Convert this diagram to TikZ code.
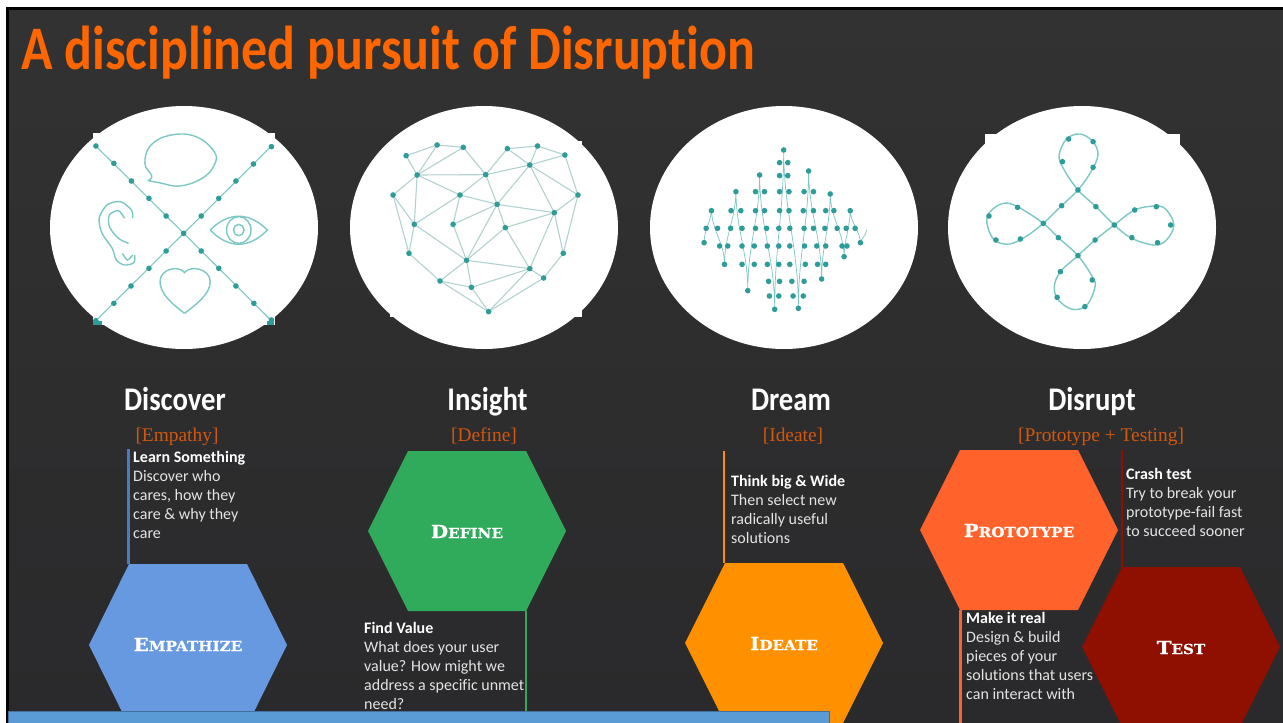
\documentclass[tikz,border=0pt]{standalone}
\usepackage{fontspec}
\usetikzlibrary{calc}
\newfontfamily\carlito[Ligatures=NoCommon]{Carlito}
\newfontfamily\serifl{Liberation Serif}
\newfontfamily\titlef[FakeStretch=0.838,Ligatures=NoCommon]{Carlito Bold}
\newfontfamily\headf[FakeStretch=0.87,Ligatures=NoCommon]{Carlito}
\newfontfamily\capf[FakeStretch=1.1,BoldFeatures={FakeBold=0.7}]{DejaVu Serif}
\definecolor{bgtop}{HTML}{323232}
\definecolor{bgbot}{HTML}{2A292B}
\definecolor{titleor}{HTML}{FF6600}
\definecolor{subor}{HTML}{D2570C}
\definecolor{body}{HTML}{E4E4E4}
\definecolor{hexblue}{HTML}{6699E0}
\definecolor{barblue}{HTML}{4A7CC0}
\definecolor{hexgreen}{HTML}{30AB5C}
\definecolor{hexamber}{HTML}{FF9100}
\definecolor{hexorange}{HTML}{FF632B}
\definecolor{hexred}{HTML}{8F0F00}
\definecolor{boxblue}{HTML}{5B9BD5}
\definecolor{boxedge}{HTML}{41719C}
\definecolor{tealdot}{HTML}{2E9C98}
\definecolor{teall}{HTML}{7CC8C4}
\definecolor{greyl}{HTML}{B2D2D0}
\newcommand{\capl}[2]{{\capf\bfseries\fontsize{18}{18}\selectfont #1}{\capf\bfseries\fontsize{13.8}{14}\selectfont #2}}
\newcommand{\hexa}[6]{% name, left tip x, center y, half height, colour, label
  \coordinate (#1tl) at (#2+40,#3-#4);
  \coordinate (#1tr) at (#2+158,#3-#4);
  \coordinate (#1r) at (#2+198,#3);
  \coordinate (#1br) at (#2+158,#3+#4);
  \coordinate (#1bl) at (#2+40,#3+#4);
  \coordinate (#1l) at (#2,#3);
  \fill[#5] (#1tl) -- (#1tr) -- (#1r) -- (#1br) -- (#1bl) -- (#1l) -- cycle;
}
\tikzset{
  headtxt/.style={anchor=base,text=white,font=\headf\bfseries\fontsize{33}{33}\selectfont,inner sep=0},
  subtxt/.style={anchor=base,text=subor,font=\serifl\fontsize{19.4}{19.4}\selectfont,inner sep=0},
  hexlab/.style={anchor=base,text=white,inner sep=0},
  bodytxt/.style={anchor=north west,align=left,text=body,inner sep=0,font=\carlito\fontsize{16}{19}\selectfont},
  barline/.style={line width=2.2pt},
  tline/.style={teall,line width=1.1pt},
  gline/.style={greyl,line width=1.1pt},
  icon/.style={teall,line width=1.4pt},
}
\newcommand{\dotsat}[1]{\foreach \p in {#1} \fill[tealdot] \p circle (2.8pt);}
\begin{document}
\begin{tikzpicture}[x=1pt,y=-1pt]
\clip (0,0) rectangle (1283,723);
\fill[white] (0,0) rectangle (1283,723);
\shade[top color=bgtop,bottom color=bgbot] (6,7) rectangle (1283,723);
\draw[black,line width=3pt] (7.5,723) -- (7.5,8.5) -- (1283,8.5);
% title
\node[anchor=base west,inner sep=0,text=titleor,font=\titlef\fontsize{62}{62}\selectfont] (title) at (21,69) {A disciplined pursuit of Disruption};
% discs
\fill[white] (184,227.5) ellipse [x radius=134,y radius=121.5];
\fill[white] (484,227.5) ellipse [x radius=134,y radius=121.5];
\fill[white] (784,227.5) ellipse [x radius=134,y radius=121.5];
\fill[white] (1082,227.5) ellipse [x radius=134,y radius=121.5];
\fill[white] (93,133) rectangle (275,325);
\fill[white] (390,141) rectangle (582,317);
\fill[white] (985,134) rectangle (1180,312);
% icon 1
\begin{scope}[shift={(0,90)},x=0.40816pt,y=-0.33333pt]
\draw[tline] (235,168) -- (665,692);
\draw[tline] (665,168) -- (235,692);
\dotsat{(235,168),(279,220),(322,273),(365,325),(407,378),(450,430),(493,483),(536,535),(578,588),(622,640),(665,690),(665,170),(621,222),(578,273),(536,325),(493,378),(407,483),(365,535),(321,588),(279,640),(235,692)}
\fill[tealdot] (228,692) rectangle (250,705);
\fill[tealdot] (655,692) rectangle (672,705);
\draw[icon] plot[smooth,tension=0.7] coordinates {(362,272)(372,258)(355,220)(370,165)(420,135)(480,140)(525,185)(525,225)(495,265)(440,288)(390,278)(362,272)};
\draw[icon] plot[smooth] coordinates {(330,495)(328,518)(305,525)(285,510)(275,475)(250,430)(243,385)(262,345)(295,335)(322,360)(325,385)};
\draw[icon] plot[smooth] coordinates {(305,385)(290,362)(268,375)(268,410)(290,445)(315,460)};
\draw[icon] plot[smooth] coordinates {(300,490)(312,510)(325,495)};
\draw[icon] (515,420) .. controls (560,365) and (610,365) .. (655,420) .. controls (610,477) and (560,477) .. (515,420);
\draw[icon] (585,420) ellipse [x radius=30,y radius=40];
\draw[icon] (585,420) ellipse [x radius=13,y radius=17];
\draw[icon] (452,670) .. controls (420,640) and (392,610) .. (392,575) .. controls (392,535) and (440,525) .. (452,548) .. controls (465,525) and (515,535) .. (515,575) .. controls (515,610) and (485,640) .. (452,670);
\end{scope}
% icon 2
\begin{scope}[shift={(0,90)},x=0.40816pt,y=-0.33333pt]
\foreach \n/\q in {a/{995,197},b/{1071,165},c/{1135,172},d/{1243,176},e/{1317,168},f/{1384,195},g/{1298,225},h/{1190,254},i/{1022,255},j/{963,315},k/{1127,315},l/{1218,343},m/{1416,315},n/{1358,368},o/{1015,403},p/{1110,403},q/{1238,413},r/{1002,490},s/{1380,490},t/{1143,511},u/{1298,536},v/{1332,564},w/{1078,573},x/{1155,592},y/{1197,665}}
  {\coordinate (ht\n) at (\q);}
\foreach \s/\t in {a/b,b/c,a/i,b/i,c/i,c/h,d/h,d/e,d/g,e/g,e/f,f/g,g/h,h/i,i/j,i/k,i/o,j/o,k/h,k/l,k/o,k/p,h/l,g/l,g/m,f/m,m/n,l/n,l/p,l/q,l/t,p/t,q/n,q/t,q/u,g/n,n/u,n/s,m/s,s/v,u/v,o/r,o/t,j/r,r/w,t/w,t/x,t/u,u/x,w/x,w/y,x/y,u/y,v/y}
  {\draw[gline] (ht\s) -- (ht\t);}
\foreach \n in {a,b,c,d,e,f,g,h,i,j,k,l,m,n,o,p,q,r,s,t,u,v,w,x,y} {\fill[tealdot] (ht\n) circle (2.8pt);}
\end{scope}
% icon 3
\begin{scope}[shift={(640,90)},x=0.40816pt,y=-0.33333pt]
\draw[teall,line width=0.7pt] (157,458) to[out=90,in=-90] (175,355) to[out=-90,in=90] (207,523) to[out=90,in=-90] (235,300) to[out=-90,in=90] (264,602) to[out=90,in=-90] (293,250) to[out=-90,in=90] (330,660) to[out=90,in=-90] (352,178) to[out=-90,in=90] (388,655) to[out=90,in=-90] (413,238) to[out=-90,in=90] (445,570) to[out=90,in=-90] (466,308) to[out=-90,in=90] (500,503) to[out=90,in=-90] (515,358) to[out=-90,in=90] (540,462) to[out=90,in=-90] (555,420);
\dotsat{(352,180),(342,218),(362,218),(293,255),(342,257),(362,257),(413,243),(235,305),(283,305),(305,305),(342,305),(365,305),(402,305),(425,305),(466,312)}
\dotsat{(175,362),(223,362),(247,362),(283,362),(305,362),(342,362),(365,362),(400,362),(425,362),(455,362),(475,362),(515,362)}
\dotsat{(162,415),(190,415),(222,415),(250,415),(283,415),(310,415),(340,415),(367,415),(402,415),(425,415),(453,415),(483,415),(505,415),(527,415)}
\dotsat{(157,458),(540,458),(195,468),(215,468),(250,468),(280,468),(312,468),(340,468),(367,468),(403,468),(433,468),(455,468),(495,468),(507,468),(500,500)}
\dotsat{(207,523),(250,523),(280,523),(312,523),(340,523),(367,523),(405,523),(435,523),(455,523),(445,567),(315,574),(342,574),(372,574),(402,574),(264,602),(317,618),(340,618),(375,618),(400,618),(330,658),(388,655)}
\end{scope}
% icon 4
\begin{scope}[shift={(640,90)},x=0.40816pt,y=-0.33333pt]
\draw[tline,line width=1.4pt] plot[smooth cycle,tension=0.6] coordinates {(1073,300)(1117,350)(1162,405)(1205,445)(1260,465)(1290,450)(1308,405)(1290,360)(1265,348)(1212,360)(1162,405)(1115,450)(1073,497)(1030,545)(1015,590)(1025,630)(1060,658)(1095,645)(1115,590)(1108,560)(1073,497)(1025,443)(988,400)(925,350)(890,340)(858,365)(850,400)(868,450)(905,462)(945,440)(988,400)(1033,347)(1073,300)(1105,245)(1122,195)(1110,155)(1078,132)(1045,147)(1027,195)(1037,235)};
\dotsat{(1073,300),(988,400),(1162,405),(1073,497),(1033,347),(1117,350),(1025,443),(1115,450),(1035,215),(1050,147),(1110,155),(1110,232),(925,352),(855,378),(872,450),(932,447),(1212,360),(1265,350),(1300,405),(1268,458),(1205,443),(1030,545),(1022,622),(1090,650),(1108,570)}
\end{scope}
% headings
\node[headtxt] (h1) at (175,410) {Discover};
\node[headtxt] (h2) at (487.5,410) {Insight};
\node[headtxt] (h3) at (791,410) {Dream};
\node[headtxt] (h4) at (1092,410) {Disrupt};
\node[subtxt] (s1) at (177,441) {[Empathy]};
\node[subtxt] (s2) at (484,441) {[Define]};
\node[subtxt] (s3) at (793,441) {[Ideate]};
\node[subtxt] (s4) at (1101,441) {[Prototype + Testing]};
% hexagons
\hexa{emp}{89}{645}{81}{hexblue}{}
\hexa{def}{368}{531}{80}{hexgreen}{}
\hexa{ide}{685}{643}{80}{hexamber}{}
\hexa{pro}{920}{530}{80}{hexorange}{}
\hexa{tes}{1082}{647}{80}{hexred}{}
\node[hexlab] (lemp) at (188,651) {\capl{E}{MPATHIZE}};
\node[hexlab] (ldef) at (467,538) {\capl{D}{EFINE}};
\node[hexlab] (lide) at (784,650) {\capl{I}{DEATE}};
\node[hexlab] (lpro) at (1019,537) {\capl{P}{ROTOTYPE}};
\node[hexlab] (ltes) at (1181,654) {\capl{T}{EST}};
% bars
\coordinate (empfree) at (128.5,449);
\coordinate (deffree) at (526,712);
\coordinate (idefree) at (724,451);
\coordinate (profree) at (960.5,723);
\coordinate (tesfree) at (1122,450);
\draw[barline,barblue] (empfree) -- (empfree |- emptl);
\draw[barline,hexgreen] (deffree |- defbr) -- (deffree);
\draw[barline,hexamber] (idefree) -- (idefree |- idetl);
\draw[barline,hexorange] (profree |- probl) -- (profree);
\draw[barline,hexred] (tesfree) -- (tesfree |- testl);
% texts
\node[bodytxt] (t1) at (133,451) {{\bfseries\color{white}Learn Something}\\Discover who\\cares, how they\\care \& why they\\care};
\node[bodytxt] (t2) at (364,622) {{\bfseries\color{white}Find Value}\\What does your user\\value? How might we\\address a specific unmet\\need?};
\node[bodytxt] (t3) at (731,475) {{\bfseries\color{white}Think big \& Wide}\\Then select new\\radically useful\\solutions};
\node[bodytxt] (t4) at (1126,468) {{\bfseries\color{white}Crash test}\\Try to break your\\prototype-fail fast\\to succeed sooner};
\node[bodytxt] (t5) at (966,612) {{\bfseries\color{white}Make it real}\\Design \& build\\pieces of your\\solutions that users\\can interact with};
% bottom box
\draw[boxedge,fill=boxblue,line width=1pt] (8,711.5) rectangle (829,730);
\end{tikzpicture}
\end{document}
